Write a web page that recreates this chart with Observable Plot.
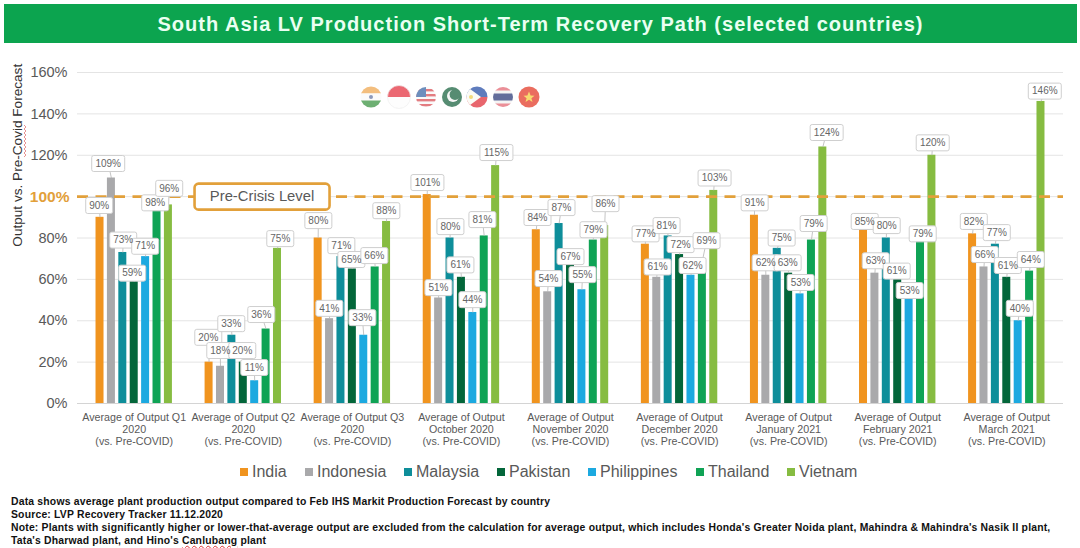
<!DOCTYPE html>
<html>
<head>
<meta charset="utf-8">
<script src="https://cdn.jsdelivr.net/npm/d3@7"></script>
<script src="https://cdn.jsdelivr.net/npm/@observablehq/plot@0.6"></script>
<style>
  html, body { margin: 0; padding: 0; background: #fff; }
  body { width: 1080px; height: 548px; position: relative; overflow: hidden; font-family: "Liberation Sans", Arial, sans-serif; }
  #title { position: absolute; left: 4px; top: 4px; width: 1073px; height: 39px; line-height: 40px; background: #0ca44f; color: #eafff2; font-weight: bold; font-size: 20px; letter-spacing: 1.01px; text-align: center; }
  #chart { position: absolute; left: 0; top: 43px; }
  #flags { position: absolute; left: 355px; top: 80px; opacity: 0.88; }
  #squiggle { position: absolute; left: 23px; top: 125px; }
  #legend { position: absolute; left: 0; top: 462px; height: 20px; width: 1080px; font-size: 16px; color: #595959; }
  #legend span.k { position: absolute; top: 0; line-height: 20px; white-space: nowrap; }
  #legend i { display: inline-block; width: 8px; height: 8px; margin-right: 4px; vertical-align: 1px; }
  #notes { position: absolute; left: 11px; top: 495px; width: 1060px; font-size: 10.4px; line-height: 13px; font-weight: bold; color: #111; letter-spacing: 0.19px; white-space: nowrap; }
  #notes u { text-decoration: underline wavy #d33 1px; }
</style>
</head>
<body>
<div id="title"></div>
<div id="chart"></div>
<svg id="squiggle" width="5" height="34"><path d="M1 0 L3 2 L1 4 L3 6 L1 8 L3 10 L1 12 L3 14 L1 16 L3 18 L1 20 L3 22 L1 24 L3 26 L1 28 L3 30 L1 32" fill="none" stroke="#d66" stroke-width="0.7"/></svg>
<svg id="flags" width="190" height="35" viewBox="0 0 190 35">
  <defs>
    <clipPath id="c1"><circle cx="16" cy="17" r="10.5"/></clipPath>
    <clipPath id="c2"><circle cx="44" cy="17" r="11.5"/></clipPath>
    <clipPath id="c3"><circle cx="71" cy="17" r="10"/></clipPath>
    <clipPath id="c4"><circle cx="97" cy="17" r="10"/></clipPath>
    <clipPath id="c5"><circle cx="122" cy="17" r="10.5"/></clipPath>
    <clipPath id="c6"><circle cx="148" cy="17" r="10"/></clipPath>
    <clipPath id="c7"><circle cx="174" cy="17" r="10.5"/></clipPath>
  </defs>
  <g clip-path="url(#c1)"><rect x="5" y="6" width="22" height="7.5" fill="#f2b66d"/><rect x="5" y="13.5" width="22" height="7" fill="#fbfbfb"/><rect x="5" y="20.5" width="22" height="8" fill="#5aa45f"/><circle cx="16" cy="17" r="2" fill="#7c8bb0"/></g>
  <g clip-path="url(#c2)"><rect x="32" y="5" width="24" height="12" fill="#e9545f"/><rect x="32" y="17" width="24" height="12" fill="#fdfdfd"/></g>
  <circle cx="44" cy="17" r="11.5" fill="none" stroke="#eee" stroke-width="0.7"/>
  <g clip-path="url(#c3)"><rect x="61" y="7" width="20" height="20" fill="#fafafa"/><rect x="61" y="9" width="20" height="2.4" fill="#e06b70"/><rect x="61" y="14" width="20" height="2.4" fill="#e06b70"/><rect x="61" y="19" width="20" height="2.4" fill="#e06b70"/><rect x="61" y="24" width="20" height="2.4" fill="#e06b70"/><rect x="61" y="7" width="10" height="10" fill="#5a7fb5"/></g>
  <g clip-path="url(#c4)"><rect x="87" y="7" width="20" height="20" fill="#3f7d5f"/><circle cx="98" cy="16" r="6" fill="#f5f5f5"/><circle cx="100" cy="14.5" r="5.4" fill="#3f7d5f"/></g>
  <g clip-path="url(#c5)"><rect x="111" y="6" width="22" height="11" fill="#4a6bb5"/><rect x="111" y="17" width="22" height="11" fill="#e5525a"/><path d="M111 6 L126 17 L111 28 Z" fill="#fbfbf5"/><circle cx="116" cy="17" r="2" fill="#f1d56a"/></g>
  <g clip-path="url(#c6)"><rect x="138" y="7" width="20" height="20" fill="#f3f3f3"/><rect x="138" y="7" width="20" height="3.5" fill="#e9808a"/><rect x="138" y="13.5" width="20" height="7" fill="#4e5a8e"/><rect x="138" y="23.5" width="20" height="3.5" fill="#e9808a"/></g>
  <g clip-path="url(#c7)"><rect x="163" y="6" width="22" height="22" fill="#e85a4a"/><path d="M174 11.5 L175.6 15.5 L179.5 15.7 L176.4 18.2 L177.5 22 L174 19.8 L170.5 22 L171.6 18.2 L168.5 15.7 L172.4 15.5 Z" fill="#f6d65c"/></g>
</svg>
<div id="legend"></div>
<div id="notes"></div>
<script>
const titleText = "South Asia LV Production Short-Term Recovery Path (selected countries)";
const yAxisTitle = "Output vs. Pre-Covid Forecast";
const crisisText = "Pre-Crisis Level";
const countries = ["India", "Indonesia", "Malaysia", "Pakistan", "Philippines", "Thailand", "Vietnam"];
const periods = [
  "Average of Output Q1\n2020\n(vs. Pre-COVID)",
  "Average of Output Q2\n2020\n(vs. Pre-COVID)",
  "Average of Output Q3\n2020\n(vs. Pre-COVID)",
  "Average of Output\nOctober 2020\n(vs. Pre-COVID)",
  "Average of Output\nNovember 2020\n(vs. Pre-COVID)",
  "Average of Output\nDecember 2020\n(vs. Pre-COVID)",
  "Average of Output\nJanuary 2021\n(vs. Pre-COVID)",
  "Average of Output\nFebruary 2021\n(vs. Pre-COVID)",
  "Average of Output\nMarch 2021\n(vs. Pre-COVID)"
];
const india       = [90, 20, 80, 101, 84, 77, 91, 85, 82];
const indonesia   = [109, 18, 41, 51, 54, 61, 62, 63, 66];
const malaysia    = [73, 33, 71, 80, 87, 81, 75, 80, 77];
const pakistan    = [59, 20, 65, 61, 67, 72, 63, 61, 61];
const philippines = [71, 11, 33, 44, 55, 62, 53, 53, 40];
const thailand    = [98, 36, 66, 81, 79, 69, 79, 79, 64];
const vietnam     = [96, 75, 88, 115, 86, 103, 124, 120, 146];
const seriesValues = [india, indonesia, malaysia, pakistan, philippines, thailand, vietnam];
const yTicks = [0, 20, 40, 60, 80, 120, 140, 160];
const noteLines = [
  "Data shows average plant production output compared to Feb IHS Markit Production Forecast by country",
  "Source: LVP Recovery Tracker 11.12.2020",
  "Note: Plants with significantly higher or lower-that-average output are excluded from the calculation for average output, which includes Honda's Greater Noida plant, Mahindra &amp; Mahindra's Nasik II plant,",
  "Tata's Dharwad plant, and Hino's <u>Canlubang</u> plant"
];

// Callout placement: height on the value axis, sideways shift in pixels from the group centre.
const calloutHeights = [
  [95.7, 116, 79, 63, 76, 97, 104],
  [32, 25.6, 38.6, 25.6, 17.4, 43, 79.7],
  [88.4, 46, 76.3, 69.6, 41.5, 71.5, 93.2],
  [106.8, 56, 85.5, 67, 50.2, 88.9, 121.3],
  [89.9, 60.4, 94.7, 71, 62.3, 84, 96.6],
  [82, 66, 86, 76.8, 66.7, 78.7, 109],
  [97, 68, 80, 68, 58.5, 87, 131],
  [88, 69, 86, 64, 54.6, 82, 126],
  [88, 72, 82.6, 66.7, 46, 69.6, 151]
];
const calloutShifts = [
  [-35, -26, -11, -2, 11, 21, 35],
  [-35, -23, -12, -1, 11, 18, 37],
  [-34, -23, -11, -1, 10, 22, 34],
  [-34, -23, -11, -1, 11, 21, 35],
  [-33, -22, -9, 0, 12, 23, 35],
  [-34, -22, -13, 1, 13, 27, 35],
  [-34, -23, -7, -1, 12, 25, 38],
  [-33, -22, -11, -1, 12, 25, 35],
  [-33, -22, -10, 1, 13, 24, 38]
];

const palette = ["#f0941f", "#a9a9ab", "#0e8e9a", "#03663a", "#1ca9e0", "#0fa355", "#86bc41"];
const ORANGE = "#e2a03a";
const TEXT = "#595959";
const W = 1080, ML = 77, MR = 17;
const xDomain = [-0.52, 8.52];
const unit = (W - ML - MR) / (xDomain[1] - xDomain[0]);   // pixels per group
const barStep = 11.4 / unit, barW = 8 / unit;
const crisisAt = 1.172;   // group-axis position of the callout

const rows = [];
periods.forEach((p, g) => countries.forEach((c, s) => {
  const xc = g + (s - 3) * barStep;
  const v = seriesValues[s][g];
  rows.push({
    g, s, c, v,
    x1: xc - barW / 2, x2: xc + barW / 2, xc,
    lx: g + calloutShifts[g][s] / unit,
    ly: calloutHeights[g][s],
    t: v + "%"
  });
}));

const box = (w, h, r) => ({
  draw(ctx) {
    const x = -w / 2, y = -h / 2;
    ctx.moveTo(x + r, y);
    ctx.lineTo(x + w - r, y); ctx.arcTo(x + w, y, x + w, y + r, r);
    ctx.lineTo(x + w, y + h - r); ctx.arcTo(x + w, y + h, x + w - r, y + h, r);
    ctx.lineTo(x + r, y + h); ctx.arcTo(x, y + h, x, y + h - r, r);
    ctx.lineTo(x, y + r); ctx.arcTo(x, y, x + r, y, r);
    ctx.closePath();
  }
});

const plot = Plot.plot({
  width: W, height: 410,
  marginLeft: ML, marginRight: MR, marginTop: 29, marginBottom: 50,
  style: { fontFamily: "'Liberation Sans', Arial, sans-serif", background: "transparent", overflow: "visible" },
  x: { domain: xDomain, axis: null },
  y: { domain: [0, 160], axis: null },
  marks: [
    Plot.ruleY([20, 40, 60, 80, 100, 120, 140, 160], { stroke: "#e4e4e4", strokeWidth: 1 }),
    Plot.ruleY([0], { stroke: "#d4d4d4", strokeWidth: 1 }),
    Plot.axisY({ ticks: yTicks, tickSize: 0, tickPadding: 10, fontSize: 14.5, fill: TEXT, label: null, tickFormat: d => d + "%" }),
    Plot.axisY({ ticks: [100], tickSize: 0, tickPadding: 8, fontSize: 15.5, fontWeight: "bold", fill: ORANGE, label: null, tickFormat: d => d + "%" }),
    Plot.axisX({ ticks: d3.range(periods.length), tickFormat: i => periods[i], tickSize: 0, tickPadding: 9, fontSize: 10.7, lineHeight: 1.12, fill: TEXT, label: null }),
    Plot.text([yAxisTitle], { x: xDomain[0], y: 120, dx: -60, rotate: -90, fontSize: 13.6, fill: "#333" }),
    Plot.rectY(rows, { x1: "x1", x2: "x2", y: "v", fill: (d) => palette[d.s] }),
    Plot.ruleY([100], { stroke: ORANGE, strokeWidth: 2.6, strokeDasharray: "11,7.5" }),
    Plot.dot([0], { x: crisisAt, y: 100, symbol: box(135, 26, 4), fill: "#fff", stroke: ORANGE, strokeWidth: 2.6 }),
    Plot.text([crisisText], { x: crisisAt, y: 100, fontSize: 14.8, fill: TEXT }),
    Plot.link(rows, { x1: "xc", y1: "v", x2: "lx", y2: "ly", stroke: "#b5b5b5", strokeWidth: 0.8 }),
    Plot.dot(rows.filter(d => d.v < 100), { x: "lx", y: "ly", symbol: box(27, 16, 2), fill: "#fff", stroke: "#cfcfcf", strokeWidth: 1 }),
    Plot.dot(rows.filter(d => d.v >= 100), { x: "lx", y: "ly", symbol: box(33, 16, 2), fill: "#fff", stroke: "#cfcfcf", strokeWidth: 1 }),
    Plot.text(rows, { x: "lx", y: "ly", text: "t", fontSize: 10, fill: "#666" })
  ]
});
document.getElementById("chart").appendChild(plot);
document.getElementById("title").textContent = titleText;

const legendLefts = [240, 305, 404, 497, 588, 696, 787];
document.getElementById("legend").innerHTML = countries.map((c, i) =>
  `<span class="k" style="left:${legendLefts[i]}px"><i style="background:${palette[i]}"></i>${c}</span>`).join("");
document.getElementById("notes").innerHTML = noteLines.join("<br>");
</script>
</body>
</html>
